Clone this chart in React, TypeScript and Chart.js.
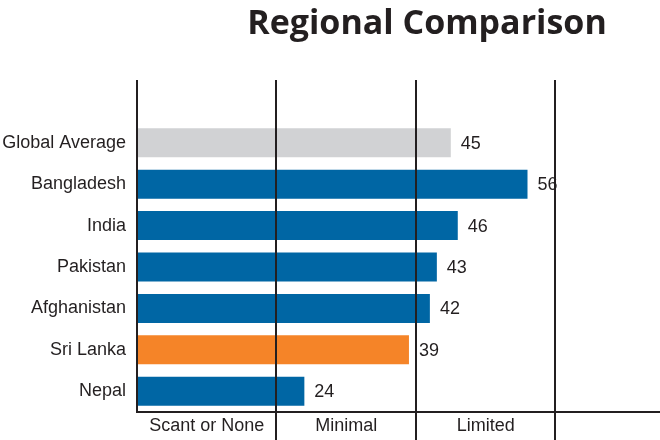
import React, { useEffect, useRef } from "react";
import { Chart, registerables } from "chart.js";

Chart.register(...registerables);

const categories = ["Global Average", "Bangladesh", "India", "Pakistan", "Afghanistan", "Sri Lanka", "Nepal"];
const values = [45, 56, 46, 43, 42, 39, 24];
const barColors = ["#D1D2D4", "#0066A4", "#0066A4", "#0066A4", "#0066A4", "#F58428", "#0066A4"];
const gridValues = [0, 20, 40, 60];
const bandValues = [10, 30, 50];
const bandLabels = ["Scant or None", "Minimal", "Limited"];
const titleText = "Regional Comparison";

const LINE = "#231F20";
const FONT = "'Liberation Sans', Arial, sans-serif";

const overlay = {
  id: "overlay",
  afterDatasetsDraw(chart: any) {
    const { ctx, chartArea, scales } = chart;
    const x = scales.x;
    ctx.save();
    ctx.strokeStyle = LINE;
    ctx.lineWidth = 2;
    gridValues.forEach((v) => {
      const px = Math.round(x.getPixelForValue(v));
      ctx.beginPath();
      ctx.moveTo(px, 80);
      ctx.lineTo(px, v === 0 ? chartArea.bottom : chart.height);
      ctx.stroke();
    });
    const meta = chart.getDatasetMeta(0);
    ctx.fillStyle = "#231F20";
    ctx.font = `18px ${FONT}`;
    ctx.textAlign = "left";
    ctx.textBaseline = "middle";
    meta.data.forEach((bar: any, i: number) => {
      ctx.fillText(String(values[i]), bar.x + 10, bar.y + 1);
    });
    ctx.font = `bold 34px 'Open Sans', sans-serif`;
    ctx.textAlign = "center";
    ctx.textBaseline = "alphabetic";
    ctx.fillStyle = "#231F20";
    ctx.fillText(titleText, 427, 34);
    ctx.restore();
  },
};

export default function App() {
  const ref = useRef<HTMLCanvasElement>(null);
  useEffect(() => {
    const chart = new Chart(ref.current!, {
      type: "bar",
      data: {
        labels: categories,
        datasets: [
          {
            data: values,
            backgroundColor: barColors,
            borderWidth: 0,
            categoryPercentage: 1,
            barPercentage: 0.7,
          },
        ],
      },
      options: {
        indexAxis: "y",
        animation: false,
        responsive: false,
        layout: { padding: { top: 122, left: 0, right: 0, bottom: 0 } },
        plugins: { legend: { display: false }, tooltip: { enabled: false }, title: { display: false } },
        scales: {
          x: {
            type: "linear",
            min: 0,
            max: 75,
            grid: { display: false, drawTicks: false },
            border: { display: true, color: LINE, width: 2 },
            afterBuildTicks: (scale: any) => {
              scale.ticks = bandValues.map((v) => ({ value: v }));
            },
            afterFit: (scale: any) => {
              scale.height = 28;
            },
            ticks: {
              autoSkip: false,
              maxRotation: 0,
              padding: 3,
              color: "#231F20",
              font: { family: FONT, size: 18 },
              callback: (v: any) => {
                const i = bandValues.indexOf(Number(v));
                return i >= 0 ? bandLabels[i] : "";
              },
            },
          },
          y: {
            grid: { display: false, drawTicks: false },
            border: { display: false },
            afterFit: (scale: any) => {
              scale.width = 137;
            },
            ticks: {
              padding: 11,
              color: "#231F20",
              font: { family: FONT, size: 18 },
            },
          },
        },
      },
      plugins: [overlay],
    });
    return () => chart.destroy();
  }, []);
  return (
    <div style={{ position: "fixed", left: 0, top: 0, width: 660, height: 440, background: "#fff" }}>
      <canvas ref={ref} width={660} height={440} />
    </div>
  );
}
